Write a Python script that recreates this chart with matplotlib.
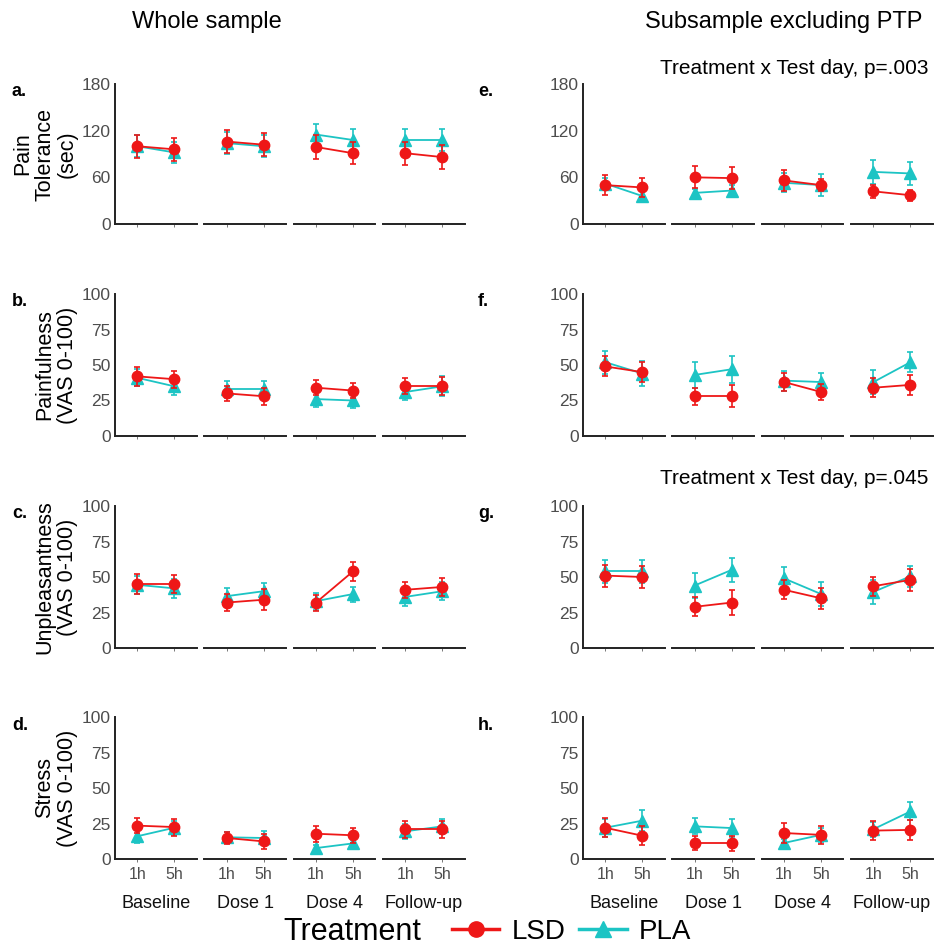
import numpy as np
import matplotlib
matplotlib.use("Agg")
import matplotlib.pyplot as plt
from matplotlib.lines import Line2D

plt.rcParams["font.family"] = ["Liberation Sans", "DejaVu Sans"]

days = ["Baseline", "Dose 1", "Dose 4", "Follow-up"]
times = ["1h", "5h"]

# means / SE per day x time (Baseline 1h, Baseline 5h, Dose 1 1h, ...)
lsd_a = [100, 96, 106, 102, 99, 91, 91, 86]
lsd_a_se = [15, 15, 15, 15, 15, 14, 15, 15]
pla_a = [100, 92, 104, 100, 115, 108, 108, 108]
pla_a_se = [14, 14, 14, 14, 14, 14, 14, 14]

lsd_b = [42, 40, 30, 28, 34, 32, 35, 35]
lsd_b_se = [6.5, 6, 5.5, 6, 5.3, 5, 5.6, 6.3]
pla_b = [41, 35, 33, 33, 26, 25, 31, 35]
pla_b_se = [6, 6, 6, 6, 5.3, 5.3, 6, 7]

lsd_c = [45, 45, 32, 34, 32, 54, 41, 43]
lsd_c_se = [7, 6.6, 6, 7.4, 5.6, 6.8, 5.5, 6.6]
pla_c = [44.5, 42, 36.5, 40, 33, 38, 36, 40]
pla_c_se = [6.5, 6.8, 5.5, 6, 6, 5.3, 6.6, 6.2]

lsd_d = [23.5, 22.5, 14.8, 12.4, 17.8, 16.7, 21, 21]
lsd_d_se = [5.3, 6, 4, 5.4, 5.6, 5.4, 5.9, 6]
pla_d = [16, 22, 15.3, 14.8, 7.7, 11, 19.5, 23]
pla_d_se = [4.5, 5, 3.6, 4.7, 2, 2.6, 5.5, 5.3]

lsd_e = [50, 47, 60, 59, 56, 50, 42, 37]
lsd_e_se = [13, 12, 14, 14, 14, 8, 8, 7]
pla_e = [52, 36, 40, 43, 53, 50, 67, 65]
pla_e_se = [7, 6, 5, 7, 12, 14, 15, 15]

lsd_f = [49, 45, 28, 28, 38, 31, 34, 36]
lsd_f_se = [7, 7, 6, 7.6, 6.3, 5.3, 6.5, 7]
pla_f = [52, 44, 43, 47, 39, 38, 38, 52]
pla_f_se = [8, 8.5, 9, 9.5, 7, 6.5, 8.2, 7]

lsd_g = [51, 50, 29, 32, 41, 35, 43.5, 48]
lsd_g_se = [7.8, 7.9, 6.8, 8.8, 6.8, 7.6, 6.7, 7.9]
pla_g = [54, 54, 44, 55, 49, 38, 39.5, 50.5]
pla_g_se = [8, 8, 8.5, 8.2, 8, 8.6, 8.5, 7.4]

lsd_h = [22, 16.4, 11, 11, 18.3, 17, 20, 20.5]
lsd_h_se = [6.7, 6.8, 4.9, 5.3, 6.8, 6.3, 6.7, 6.8]
pla_h = [22, 27, 23, 21.8, 11.3, 17, 21, 33.5]
pla_h_se = [6.2, 7.6, 5.6, 6.3, 2.6, 5, 5.3, 6.3]

RED = "#EE1717"
CYAN = "#1CC4C4"
AXC = "#222222"
TICKC = "#4D4D4D"

W, H = 939, 947
fig = plt.figure(figsize=(W / 100, H / 100), dpi=100)


def px_axes(x0, y_top, w, h):
    return fig.add_axes([x0 / W, 1 - (y_top + h) / H, w / W, h / H])


col_left = [115, 583]
facet_step = 89.4
facet_w = 81.5
rows = [(84, 224), (294, 436), (506, 648), (717, 859)]


def draw_panel(col, row, lsd, lsd_se, pla, pla_se, ymax, yticks, ylabel, letter,
               ylabel_x, bottom=False):
    top, bot = rows[row]
    for i, day in enumerate(days):
        ax = px_axes(col_left[col] + i * facet_step, top, facet_w, bot - top)
        x = np.array([1, 2])
        sl = slice(2 * i, 2 * i + 2)
        ax.errorbar(x, pla[sl], yerr=pla_se[sl], color=CYAN, marker="^",
                    ms=8, lw=1.3, elinewidth=1.2, capsize=2, capthick=1.2,
                    clip_on=False, zorder=3)
        ax.errorbar(x, lsd[sl], yerr=lsd_se[sl], color=RED, marker="o",
                    ms=7.5, lw=1.3, elinewidth=1.2, capsize=2, capthick=1.2,
                    clip_on=False, zorder=4)
        ax.set_xlim(0.4, 2.6)
        ax.set_ylim(0, ymax)
        for s in ["top", "right"]:
            ax.spines[s].set_visible(False)
        ax.spines["bottom"].set_color(AXC)
        ax.spines["bottom"].set_linewidth(1.4)
        ax.set_xticks(x)
        ax.tick_params(axis="x", length=2.5, width=0.7, color="#777777",
                       labelsize=11.5, labelcolor=TICKC, pad=3)
        if bottom:
            ax.set_xticklabels(times)
            ax.text(1.5, -0.31, day, transform=ax.get_xaxis_transform(),
                    ha="center", va="center", fontsize=13, color="#111111")
        else:
            ax.set_xticklabels([])
        if i == 0:
            ax.spines["left"].set_color(AXC)
            ax.spines["left"].set_linewidth(1.4)
            ax.set_yticks(yticks)
            ax.tick_params(axis="y", length=0, pad=3, labelsize=12.5,
                           labelcolor=TICKC)
        else:
            ax.spines["left"].set_visible(False)
            ax.set_yticks([])
    if ylabel:
        fig.text(ylabel_x / W, 1 - (top + bot) / 2 / H, ylabel, rotation=90,
                 ha="center", va="center", fontsize=15.5, linespacing=1.1,
                 multialignment="center")
    lx = 12 if col == 0 else 478
    fig.text(lx / W, 1 - (top + 8) / H, letter, ha="left", va="center",
             fontsize=13, fontweight="bold")


ticks180 = [0, 60, 120, 180]
ticks100 = [0, 25, 50, 75, 100]

draw_panel(0, 0, lsd_a, lsd_a_se, pla_a, pla_a_se, 180, ticks180,
           "Pain\nTolerance\n(sec)", "a.", 45)
draw_panel(0, 1, lsd_b, lsd_b_se, pla_b, pla_b_se, 100, ticks100,
           "Painfulness\n(VAS 0-100)", "b.", 56)
draw_panel(0, 2, lsd_c, lsd_c_se, pla_c, pla_c_se, 100, ticks100,
           "Unpleasantness\n(VAS 0-100)", "c.", 56)
draw_panel(0, 3, lsd_d, lsd_d_se, pla_d, pla_d_se, 100, ticks100,
           "Stress\n(VAS 0-100)", "d.", 56, bottom=True)

draw_panel(1, 0, lsd_e, lsd_e_se, pla_e, pla_e_se, 180, ticks180, None, "e.", 0)
draw_panel(1, 1, lsd_f, lsd_f_se, pla_f, pla_f_se, 100, ticks100, None, "f.", 0)
draw_panel(1, 2, lsd_g, lsd_g_se, pla_g, pla_g_se, 100, ticks100, None, "g.", 0)
draw_panel(1, 3, lsd_h, lsd_h_se, pla_h, pla_h_se, 100, ticks100, None, "h.", 0,
           bottom=True)

# column headers and interaction notes
fig.text(207 / W, 1 - 22 / H, "Whole sample", ha="center", va="center",
         fontsize=17)
fig.text(784 / W, 1 - 22 / H, "Subsample excluding PTP", ha="center",
         va="center", fontsize=17)
fig.text(928 / W, 1 - 69 / H, "Treatment x Test day, p=.003", ha="right",
         va="center", fontsize=15)
fig.text(928 / W, 1 - 478 / H, "Treatment x Test day, p=.045", ha="right",
         va="center", fontsize=15)

# legend along the bottom
fig.text(283 / W, 1 - 932 / H, "Treatment", ha="left", va="center",
         fontsize=22)
handles = [
    Line2D([], [], color=RED, marker="o", ms=11, lw=2.5),
    Line2D([], [], color=CYAN, marker="^", ms=12, lw=2.5),
]
fig.legend(handles, ["LSD", "PLA"], loc="center left",
           bbox_to_anchor=(452 / W, 1 - 932 / H), ncol=2, frameon=False,
           fontsize=20, handlelength=1.7, handletextpad=0.45,
           columnspacing=0.5, borderpad=0, borderaxespad=0)

fig.savefig("out.png", dpi=100)
